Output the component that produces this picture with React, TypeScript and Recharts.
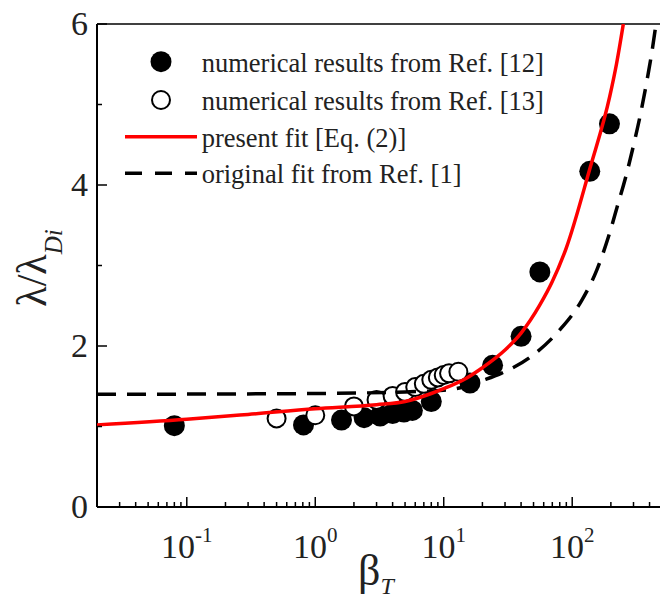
import React from 'react';
import { ComposedChart, Line, Scatter, XAxis, YAxis, ReferenceLine, Legend, Label } from 'recharts';

// numerical results from Ref. [12] (filled circles)
const ref12X = [0.08, 0.81, 1.6, 2.4, 3.2, 4.0, 4.9, 5.7, 8.0, 16, 24, 40, 56, 137, 195];
const ref12Y = [1.01, 1.02, 1.08, 1.11, 1.13, 1.16, 1.18, 1.2, 1.31, 1.54, 1.76, 2.12, 2.92, 4.17, 4.76];

// numerical results from Ref. [13] (open circles)
const ref13X = [0.5, 1.0, 2, 3, 4, 5, 6, 7, 8, 9, 10, 11, 13];
const ref13Y = [1.1, 1.14, 1.25, 1.33, 1.38, 1.43, 1.49, 1.53, 1.58, 1.61, 1.64, 1.66, 1.68];

// present fit [Eq. (2)] (red solid)
const presentX = [0.02, 0.1, 0.3, 1, 3, 5, 8, 10, 15, 20, 30, 40, 56, 70, 90, 137, 196, 221, 250];
const presentY = [1.02, 1.09, 1.15, 1.22, 1.27, 1.31, 1.41, 1.47, 1.6, 1.73, 1.95, 2.16, 2.51, 2.8, 3.22, 4.2, 5.1, 5.5, 6.0];

// original fit from Ref. [1] (black dashed)
const originalX = [0.02, 1, 5, 10, 15, 20, 28, 47, 80, 119, 155, 191, 224, 261, 306, 341, 387, 416, 449];
const originalY = [1.4, 1.41, 1.43, 1.45, 1.5, 1.57, 1.66, 1.86, 2.2, 2.57, 2.94, 3.35, 3.73, 4.1, 4.55, 4.89, 5.35, 5.64, 6.0];

const xMajorTicks = [0.1, 1, 10, 100];
const xTickExponents = ['-1', '0', '1', '2'];
const xMinorTicks = [
  0.03, 0.04, 0.05, 0.06, 0.07, 0.08, 0.09,
  0.2, 0.3, 0.4, 0.5, 0.6, 0.7, 0.8, 0.9,
  2, 3, 4, 5, 6, 7, 8, 9,
  20, 30, 40, 50, 60, 70, 80, 90,
  200, 300, 400,
];
const yMajorTicks = [0, 2, 4, 6];
const yMinorTicks = [1, 3, 5];

const legendLabels = [
  'numerical results from Ref. [12]',
  'numerical results from Ref. [13]',
  'present fit [Eq. (2)]',
  'original fit from Ref. [1]',
];

const toPoints = (xs: number[], ys: number[]) => xs.map((x, i) => ({ x, y: ys[i] }));
const ref12Data = toPoints(ref12X, ref12Y);
const ref13Data = toPoints(ref13X, ref13Y);
const presentData = toPoints(presentX, presentY);
const originalData = toPoints(originalX, originalY);

const xAllTicks = [...xMinorTicks, ...xMajorTicks].sort((a, b) => a - b);
const yAllTicks = [...yMinorTicks, ...yMajorTicks].sort((a, b) => a - b);

const FONT = '"Liberation Serif", "Times New Roman", serif';
const TEXT_COLOR = '#222';

const XTick = (props: any) => {
  const { x, y, payload } = props;
  const idx = xMajorTicks.indexOf(payload.value);
  const major = idx >= 0;
  return (
    <g>
      <line x1={x} x2={x} y1={y} y2={y - (major ? 10 : 5)} stroke="#000" strokeWidth={1.5} />
      {major && (
        <text x={x} y={y + 51} textAnchor="middle" fontFamily={FONT} fontSize={34} fill={TEXT_COLOR}>
          <tspan>10</tspan>
          <tspan dy={-16} fontSize={21}>{xTickExponents[idx]}</tspan>
        </text>
      )}
    </g>
  );
};

const YTick = (props: any) => {
  const { x, y, payload } = props;
  const major = yMajorTicks.includes(payload.value);
  return (
    <g>
      <line x1={x} x2={x + (major ? 10 : 5)} y1={y} y2={y} stroke="#000" strokeWidth={1.5} />
      {major && (
        <text x={x - 9} y={y + 11} textAnchor="end" fontFamily={FONT} fontSize={34} fill={TEXT_COLOR}>
          {payload.value}
        </text>
      )}
    </g>
  );
};

const FilledDot = (p: any) => <circle cx={p.cx} cy={p.cy} r={10.5} fill="#000" />;
const OpenDot = (p: any) => <circle cx={p.cx} cy={p.cy} r={9} fill="#fff" stroke="#000" strokeWidth={2} />;

const renderLegend = () => {
  const rowY = [21.7, 60, 96.7, 133.3];
  return (
    <svg width={440} height={150} style={{ display: 'block', overflow: 'visible' }}>
      <circle cx={46} cy={rowY[0]} r={10.5} fill="#000" />
      <circle cx={46} cy={rowY[1]} r={9} fill="#fff" stroke="#000" strokeWidth={2} />
      <line x1={10} x2={82} y1={rowY[2]} y2={rowY[2]} stroke="#ff0000" strokeWidth={3.5} />
      <line x1={10} x2={82} y1={rowY[3]} y2={rowY[3]} stroke="#000" strokeWidth={3.5} strokeDasharray="17 13" />
      {legendLabels.map((t, i) => (
        <text key={t} x={86.7} y={rowY[i] + 10} fontFamily={FONT} fontSize={26.5} fill={TEXT_COLOR}>
          {t}
        </text>
      ))}
    </svg>
  );
};

const XTitle = () => (
  <text x={358} y={585} fontFamily={FONT} fontSize={44} fill={TEXT_COLOR}>
    β
    <tspan fontStyle="italic" fontSize={24} dy={9}>T</tspan>
  </text>
);

const YTitle = () => (
  <text
    x={46}
    y={268}
    transform="rotate(-90, 46, 268)"
    textAnchor="middle"
    fontFamily={FONT}
    fontSize={42}
    fill={TEXT_COLOR}
  >
    λ/λ
    <tspan fontStyle="italic" fontSize={25} dy={16}>Di</tspan>
  </text>
);

export default function App() {
  return (
    <div style={{ position: 'fixed', left: 0, top: 0, width: 660, height: 601, overflow: 'hidden', background: '#fff' }}>
      <ComposedChart width={680} height={601} margin={{ top: 24, right: 18, bottom: 0, left: 0 }}>
        <XAxis
          xAxisId="x"
          dataKey="x"
          type="number"
          scale="log"
          domain={[0.02, 500]}
          allowDataOverflow
          ticks={xAllTicks}
          interval={0}
          tickSize={0}
          tickMargin={0}
          tickLine={false}
          tick={<XTick />}
          axisLine={{ stroke: '#000', strokeWidth: 2 }}
          height={94}
        >
          <Label content={<XTitle />} />
        </XAxis>
        <YAxis
          yAxisId="y"
          dataKey="y"
          type="number"
          domain={[0, 6]}
          allowDataOverflow
          ticks={yAllTicks}
          interval={0}
          tickSize={0}
          tickMargin={0}
          tickLine={false}
          tick={<YTick />}
          axisLine={{ stroke: '#000', strokeWidth: 2 }}
          width={97}
        >
          <Label content={<YTitle />} />
        </YAxis>
        <ReferenceLine xAxisId="x" yAxisId="y" y={6} stroke="#000" strokeWidth={1.5} />
        <Scatter
          xAxisId="x"
          yAxisId="y"
          name={legendLabels[0]}
          data={ref12Data}
          dataKey="y"
          shape={FilledDot}
          isAnimationActive={false}
        />
        <Scatter
          xAxisId="x"
          yAxisId="y"
          name={legendLabels[1]}
          data={ref13Data}
          dataKey="y"
          shape={OpenDot}
          isAnimationActive={false}
        />
        <Line
          xAxisId="x"
          yAxisId="y"
          name={legendLabels[3]}
          data={originalData}
          dataKey="y"
          type="monotone"
          stroke="#000"
          strokeWidth={3.5}
          strokeDasharray="19 11"
          dot={false}
          activeDot={false}
          isAnimationActive={false}
          zIndex={700}
        />
        <Line
          xAxisId="x"
          yAxisId="y"
          name={legendLabels[2]}
          data={presentData}
          dataKey="y"
          type="monotone"
          stroke="#ff0000"
          strokeWidth={3.5}
          dot={false}
          activeDot={false}
          isAnimationActive={false}
          zIndex={710}
        />
        <Legend
          layout="vertical"
          align="center"
          verticalAlign="middle"
          content={renderLegend}
          wrapperStyle={{ left: 115, top: 40, width: 440, height: 150 }}
        />
      </ComposedChart>
    </div>
  );
}
